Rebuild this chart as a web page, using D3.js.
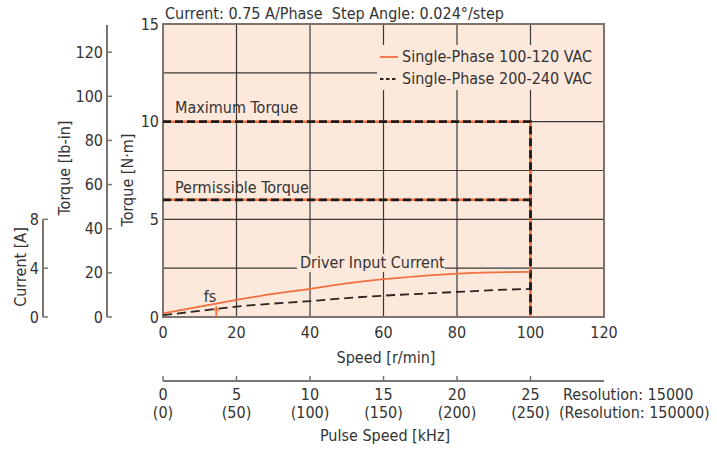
<!DOCTYPE html>
<html>
<head>
<meta charset="utf-8">
<script src="https://cdn.jsdelivr.net/npm/d3@7"></script>
<style>
  body { margin: 0; background: #ffffff; }
  text { font-family: "Liberation Sans Narrow", "DejaVu Sans Condensed", "Roboto", sans-serif; fill: #333333; font-size: 16px; }
</style>
</head>
<body>
<div id="chart"></div>
<script>
// values
const speedTicks = [0, 20, 40, 60, 80, 100, 120];
const torqueTicks = [0, 5, 10, 15];
const torqueGrid = [2.5, 5, 7.5, 10, 12.5];
const lbinTicks = [0, 20, 40, 60, 80, 100, 120];
const currentTicks = [0, 4, 8];
const pulseTicks = [0, 5, 10, 15, 20, 25];
const pulseLabelsHigh = ['(0)', '(50)', '(100)', '(150)', '(200)', '(250)'];

const maxTorque = [[0, 10], [100, 10], [100, 0]];
const permTorque = [[0, 6], [100, 6]];

const currentSpeed = [0, 10, 20, 30, 40, 50, 60, 70, 80, 90, 100];
const current100VAC = [0.3, 0.85, 1.4, 1.9, 2.3, 2.75, 3.1, 3.35, 3.55, 3.65, 3.7];
const current200VAC = [0.15, 0.5, 0.85, 1.1, 1.3, 1.55, 1.75, 1.9, 2.05, 2.2, 2.3];
const fsSpeed = 14.5;

const W = 717, H = 449;
const svg = d3.select('#chart').append('svg').attr('width', W).attr('height', H);

const x = d3.scaleLinear().domain([0, 120]).range([163, 604]);
const y = d3.scaleLinear().domain([0, 15]).range([317, 24]);
const yLb = d3.scaleLinear().domain([0, 15 * 8.851]).range([317, 24]);
const yA = d3.scaleLinear().domain([0, 24]).range([317, 24]);
const xPulse = d3.scaleLinear().domain([0, 30]).range([163, 604]);

const orange = '#f0703f';
const grid = '#3a3a3a';
const axisGray = '#7d7470';

// plot background
svg.append('rect')
  .attr('x', x(0)).attr('y', y(15))
  .attr('width', x(120) - x(0)).attr('height', y(0) - y(15))
  .attr('fill', '#fde8dc');

// grid
svg.append('g').selectAll('line').data(speedTicks.slice(1, -1)).enter().append('line')
  .attr('x1', d => x(d)).attr('x2', d => x(d))
  .attr('y1', y(15)).attr('y2', y(0))
  .attr('stroke', grid).attr('stroke-width', 1.2);
svg.append('g').selectAll('line').data(torqueGrid).enter().append('line')
  .attr('x1', x(0)).attr('x2', x(120))
  .attr('y1', d => y(d)).attr('y2', d => y(d))
  .attr('stroke', grid).attr('stroke-width', 1.2);

// border
svg.append('rect')
  .attr('x', x(0)).attr('y', y(15))
  .attr('width', x(120) - x(0)).attr('height', y(0) - y(15))
  .attr('fill', 'none').attr('stroke', axisGray).attr('stroke-width', 2);

// legend box covering the grid
svg.append('rect')
  .attr('x', 377).attr('y', 45).attr('width', 226).attr('height', 45)
  .attr('fill', '#fde8dc');

// driver input current label box
svg.append('rect')
  .attr('x', 297).attr('y', 254).attr('width', 148).attr('height', 18)
  .attr('fill', '#fde8dc');

const line = d3.line().x(d => x(d[0])).y(d => y(d[1]));
const lineA = d3.line().curve(d3.curveMonotoneX).x(d => x(d[0])).y(d => yA(d[1]));

// torque lines: orange under black dashes
[maxTorque, permTorque].forEach(data => {
  svg.append('path').datum(data).attr('d', line)
    .attr('fill', 'none').attr('stroke', orange).attr('stroke-width', 2.5);
  svg.append('path').datum(data).attr('d', line)
    .attr('fill', 'none').attr('stroke', '#1f1a18').attr('stroke-width', 2.8)
    .attr('stroke-dasharray', '8,4');
});

// current curves
svg.append('path').datum(currentSpeed.map((s, i) => [s, current100VAC[i]])).attr('d', lineA)
  .attr('fill', 'none').attr('stroke', orange).attr('stroke-width', 1.8);
svg.append('path').datum(currentSpeed.map((s, i) => [s, current200VAC[i]])).attr('d', lineA)
  .attr('fill', 'none').attr('stroke', '#2a2422').attr('stroke-width', 1.8)
  .attr('stroke-dasharray', '9,5');

// fs marker
svg.append('line')
  .attr('x1', x(fsSpeed)).attr('x2', x(fsSpeed))
  .attr('y1', y(0) - 9).attr('y2', y(0))
  .attr('stroke', orange).attr('stroke-width', 1.8);
svg.append('path')
  .attr('d', `M${x(fsSpeed) - 2.5},${y(0) - 6}L${x(fsSpeed)},${y(0) - 10}L${x(fsSpeed) + 2.5},${y(0) - 6}`)
  .attr('fill', 'none').attr('stroke', orange).attr('stroke-width', 1.2);
svg.append('text').attr('x', 210).attr('y', 302).attr('text-anchor', 'middle').text('fs');

// in-plot labels
svg.append('text').attr('x', 175).attr('y', 113).text('Maximum Torque');
svg.append('text').attr('x', 175).attr('y', 193).text('Permissible Torque');
svg.append('text').attr('x', 300).attr('y', 268).text('Driver Input Current');

// legend
svg.append('line').attr('x1', 380).attr('x2', 398).attr('y1', 57).attr('y2', 57)
  .attr('stroke', orange).attr('stroke-width', 1.8);
svg.append('line').attr('x1', 380).attr('x2', 398).attr('y1', 79).attr('y2', 79)
  .attr('stroke', '#2a2422').attr('stroke-width', 1.8).attr('stroke-dasharray', '3.5,2.5');
svg.append('text').attr('x', 402).attr('y', 62).text('Single-Phase 100-120 VAC');
svg.append('text').attr('x', 402).attr('y', 84).text('Single-Phase 200-240 VAC');

// title
svg.append('text').attr('x', 165).attr('y', 19)
  .text('Current: 0.75 A/Phase\u00a0\u00a0Step Angle: 0.024°/step');

// N·m tick labels
svg.append('g').selectAll('text').data(torqueTicks).enter().append('text')
  .attr('x', 159).attr('y', d => y(d)).attr('dy', '0.35em')
  .attr('text-anchor', 'end').text(d => d);

// speed tick labels
svg.append('g').selectAll('text').data(speedTicks).enter().append('text')
  .attr('x', d => x(d)).attr('y', 338)
  .attr('text-anchor', 'middle').text(d => d);
svg.append('text').attr('x', 386).attr('y', 363).attr('text-anchor', 'middle')
  .text('Speed [r/min]');

// side axes
function sideAxis(xPos, scale, ticks, top) {
  const g = svg.append('g');
  g.append('line').attr('x1', xPos).attr('x2', xPos)
    .attr('y1', scale.range()[0]).attr('y2', top)
    .attr('stroke', axisGray).attr('stroke-width', 2);
  g.selectAll('.tk').data(ticks).enter().append('line')
    .attr('x1', xPos).attr('x2', xPos + 5)
    .attr('y1', d => scale(d)).attr('y2', d => scale(d))
    .attr('stroke', axisGray).attr('stroke-width', 1.5);
  g.selectAll('text').data(ticks).enter().append('text')
    .attr('x', xPos - 4).attr('y', d => scale(d)).attr('dy', '0.35em')
    .attr('text-anchor', 'end').text(d => d);
}
sideAxis(107, yLb, lbinTicks, 25);
sideAxis(43, yA, currentTicks, yA(8));

function yTitle(xPos, yPos, label) {
  svg.append('text').attr('transform', `translate(${xPos},${yPos}) rotate(-90)`)
    .attr('text-anchor', 'middle').text(label);
}
yTitle(133, 180, 'Torque [N·m]');
yTitle(70, 168, 'Torque [lb-in]');
yTitle(26, 267, 'Current [A]');

// pulse speed axis
svg.append('line').attr('x1', xPulse(0)).attr('x2', xPulse(30))
  .attr('y1', 381).attr('y2', 381).attr('stroke', axisGray).attr('stroke-width', 2);
svg.append('g').selectAll('line').data(pulseTicks).enter().append('line')
  .attr('x1', d => xPulse(d)).attr('x2', d => xPulse(d))
  .attr('y1', 376).attr('y2', 381).attr('stroke', axisGray).attr('stroke-width', 1.5);
svg.append('g').selectAll('text').data(pulseTicks).enter().append('text')
  .attr('x', d => xPulse(d)).attr('y', 400)
  .attr('text-anchor', 'middle').text(d => d);
svg.append('g').selectAll('text').data(pulseLabelsHigh).enter().append('text')
  .attr('x', (d, i) => xPulse(pulseTicks[i])).attr('y', 418)
  .attr('text-anchor', 'middle').text(d => d);
svg.append('text').attr('x', 563).attr('y', 400).text('Resolution: 15000');
svg.append('text').attr('x', 559).attr('y', 418).text('(Resolution: 150000)');
svg.append('text').attr('x', 385).attr('y', 441).attr('text-anchor', 'middle')
  .text('Pulse Speed [kHz]');
</script>
</body>
</html>
